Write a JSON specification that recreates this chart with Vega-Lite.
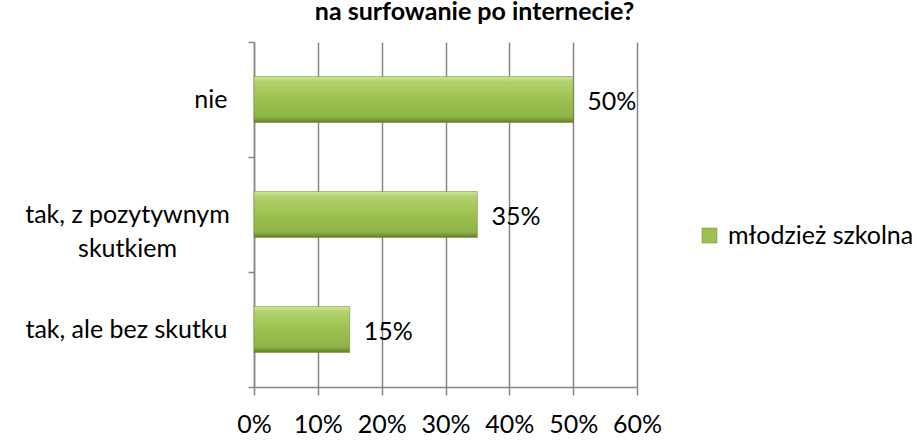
{
  "$schema": "https://vega.github.io/schema/vega-lite/v6.json",
  "autosize": {"type": "none"},
  "width": 383,
  "height": 345,
  "padding": {"left": 254, "top": 42, "right": 280, "bottom": 59},
  "background": "white",
  "title": {
    "text": "na surfowanie po internecie?",
    "font": "Lato",
    "fontSize": 25,
    "fontWeight": "bold",
    "color": "black",
    "anchor": "middle",
    "frame": "group",
    "baseline": "bottom",
    "offset": -20,
    "dx": 29
  },
  "config": {
    "view": {"stroke": null},
    "font": "Lato"
  },
  "data": {
    "values": [
      {"answer": "nie", "share": 0.50, "series": "młodzież szkolna"},
      {"answer": "tak, z pozytywnym skutkiem", "share": 0.35, "series": "młodzież szkolna"},
      {"answer": "tak, ale bez skutku", "share": 0.15, "series": "młodzież szkolna"}
    ]
  },
  "encoding": {
    "y": {
      "field": "answer",
      "type": "nominal",
      "sort": null,
      "scale": {"paddingInner": 0, "paddingOuter": 0},
      "axis": {
        "title": null,
        "tickBand": "extent",
        "grid": false,
        "domainColor": "#868686",
        "domainWidth": 1.5,
        "tickColor": "#868686",
        "tickWidth": 1.5,
        "tickSize": 6,
        "labelFont": "Lato",
        "labelFontSize": 25,
        "labelColor": "black",
        "labelLineHeight": 34,
        "labelLimit": 400,
        "labelExpr": "datum.value == 'tak, z pozytywnym skutkiem' ? ['tak, z pozytywnym', 'skutkiem'] : datum.label",
        "labelAlign": {"condition": {"test": "datum.value == 'tak, z pozytywnym skutkiem'", "value": "center"}, "value": "right"},
        "labelPadding": {"condition": {"test": "datum.value == 'tak, z pozytywnym skutkiem'", "value": 121}, "value": 21}
      }
    },
    "x": {
      "field": "share",
      "type": "quantitative",
      "scale": {"domain": [0, 0.6], "nice": false},
      "axis": {
        "title": null,
        "values": [0, 0.1, 0.2, 0.3, 0.4, 0.5, 0.6],
        "format": ".0%",
        "grid": true,
        "gridColor": "#868686",
        "gridWidth": 1.5,
        "domainColor": "#868686",
        "domainWidth": 1.5,
        "tickColor": "#868686",
        "tickWidth": 1.5,
        "tickSize": 8,
        "labelPadding": 17,
        "labelFont": "Lato",
        "labelFontSize": 25,
        "labelColor": "black",
        "labelFlush": false,
        "labelOverlap": false
      }
    }
  },
  "layer": [
    {
      "mark": {
        "type": "bar",
        "height": {"band": 0.4},
        "stroke": "#6a8a2e",
        "strokeWidth": 0.5,
        "fill": {"gradient": "linear", "x1": 0, "y1": 0, "x2": 0, "y2": 1,
          "stops": [
            {"offset": 0, "color": "#cfe59a"},
            {"offset": 0.12, "color": "#b2d16c"},
            {"offset": 0.5, "color": "#9cc151"},
            {"offset": 0.88, "color": "#8fb446"},
            {"offset": 1, "color": "#5f7d26"}
          ]}
      },
      "encoding": {}
    },
    {
      "mark": {"type": "point", "shape": "square", "filled": true, "opacity": 0},
      "encoding": {
        "color": {
          "field": "series",
          "type": "nominal",
          "scale": {"range": ["#9cc151"]},
          "legend": {
            "title": null,
            "orient": "none",
            "legendX": 443,
            "legendY": 181,
            "symbolType": "square",
            "symbolSize": 225,
            "symbolOpacity": 1,
            "symbolStrokeWidth": 0,
            "labelFont": "Lato",
            "labelFontSize": 25,
            "labelColor": "black",
            "labelOffset": 6,
            "labelLimit": 400,
            "encode": {
              "symbols": {
                "update": {
                  "opacity": {"value": 1},
                  "fillOpacity": {"value": 1},
                  "stroke": {"value": "#6a8a2e"},
                  "strokeWidth": {"value": 0.5},
                  "fill": {"value": {"gradient": "linear", "x1": 0, "y1": 0, "x2": 0, "y2": 1,
                    "stops": [
                      {"offset": 0, "color": "#cfe59a"},
                      {"offset": 0.3, "color": "#a8cb5e"},
                      {"offset": 0.7, "color": "#94ba4b"},
                      {"offset": 1, "color": "#5f7d26"}
                    ]}}
                }
              }
            }
          }
        }
      }
    },
    {
      "mark": {"type": "text", "align": "left", "baseline": "middle", "dx": 14, "dy": 2, "font": "Lato", "fontSize": 25, "color": "black"},
      "encoding": {
        "text": {"field": "share", "type": "quantitative", "format": ".0%"}
      }
    }
  ]
}
